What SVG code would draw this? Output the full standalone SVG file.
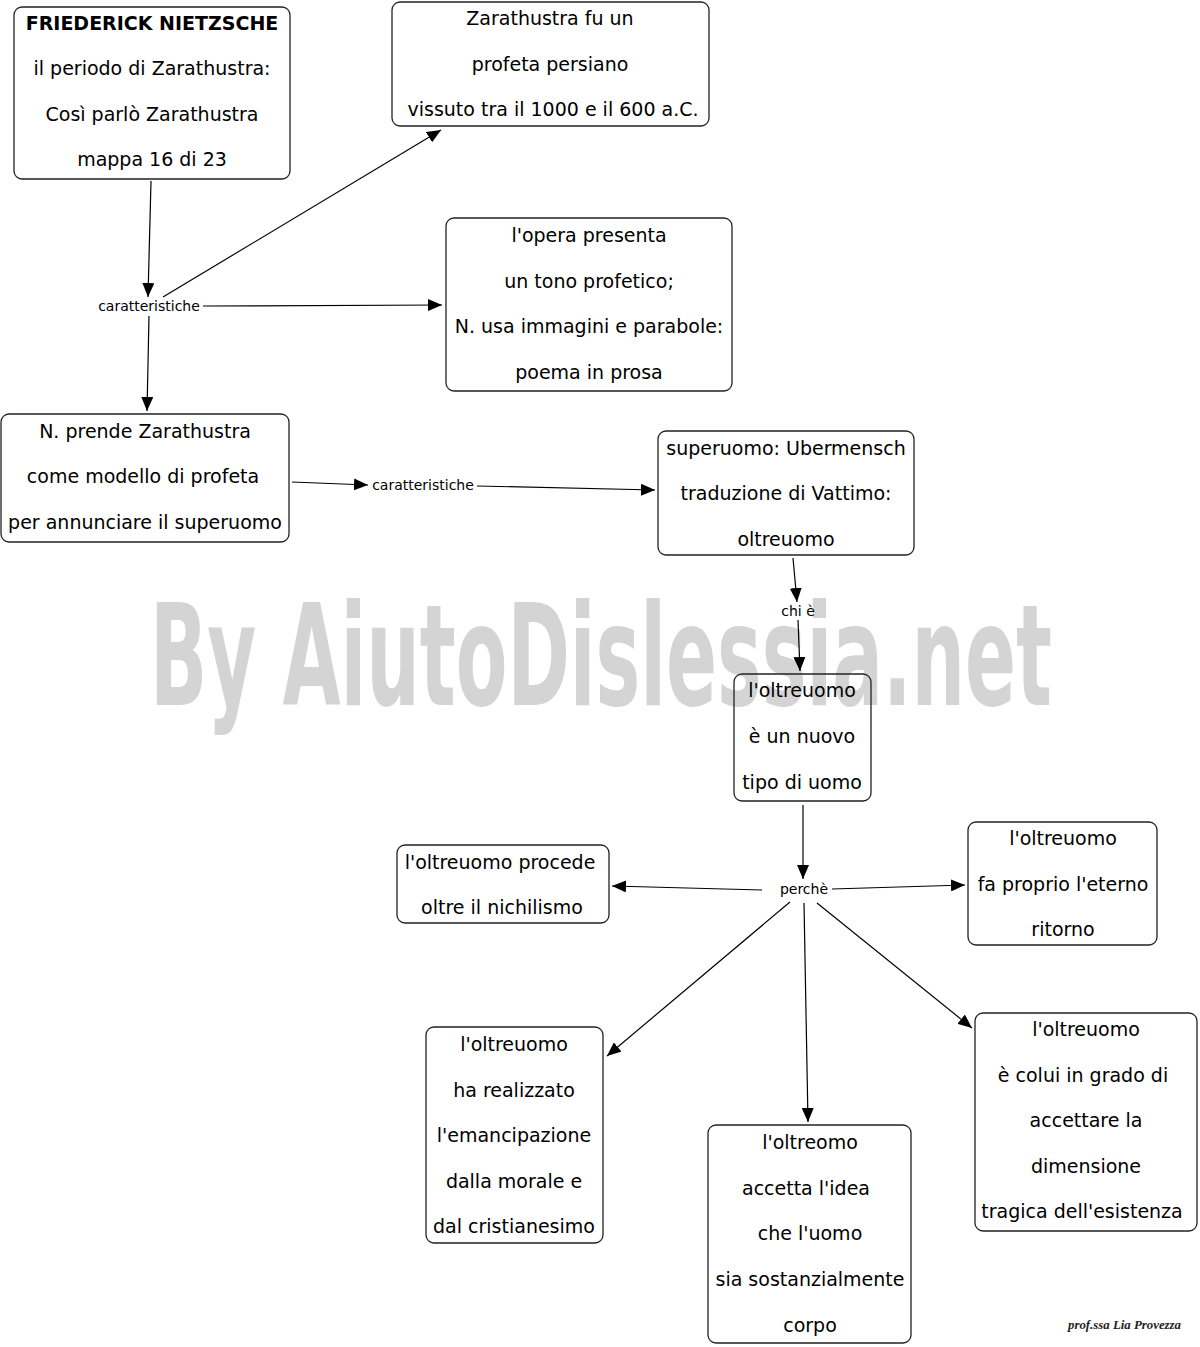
<svg xmlns="http://www.w3.org/2000/svg" width="1200" height="1347" viewBox="0 0 1200 1347">
<defs>
<marker id="ah" viewBox="0 0 14 12" refX="14" refY="6" markerWidth="14" markerHeight="12" markerUnits="userSpaceOnUse" orient="auto">
<path d="M0,0 L14,6 L0,12 Z" fill="#000"/>
</marker>
<style>
.box{fill:none;stroke:#222;stroke-width:1.3}
.t{font-family:"DejaVu Sans",Verdana,sans-serif;font-size:19px;fill:#000;text-anchor:middle}
.b{font-weight:bold}
.lbl{font-family:"DejaVu Sans",Verdana,sans-serif;font-size:14px;fill:#000;text-anchor:middle}
.c{fill:none;stroke:#000;stroke-width:1.2;marker-end:url(#ah)}
</style>
</defs>
<rect width="1200" height="1347" fill="#fff"/>
<text x="150" y="705" font-family="'DejaVu Sans Condensed','DejaVu Sans',sans-serif" font-weight="bold" font-size="140" fill="#d4d4d4" textLength="902" lengthAdjust="spacingAndGlyphs">By AiutoDislessia.net</text>

<g id="connectors">
<line class="c" x1="151" y1="181" x2="148" y2="297"/>
<line class="c" x1="163" y1="297" x2="441" y2="130"/>
<line class="c" x1="203" y1="306" x2="442" y2="305"/>
<line class="c" x1="149" y1="316" x2="147" y2="411"/>
<line class="c" x1="292" y1="482" x2="368" y2="485"/>
<line class="c" x1="477" y1="486" x2="655" y2="490"/>
<line class="c" x1="793" y1="558" x2="797" y2="602"/>
<line class="c" x1="798" y1="620" x2="800" y2="671"/>
<line class="c" x1="803" y1="805" x2="803" y2="879"/>
<line class="c" x1="762" y1="890" x2="612" y2="886"/>
<line class="c" x1="832" y1="889" x2="965" y2="885"/>
<line class="c" x1="790" y1="902" x2="607" y2="1056"/>
<line class="c" x1="804" y1="903" x2="808" y2="1122"/>
<line class="c" x1="817" y1="903" x2="972" y2="1028"/>
<text class="lbl" x="149" y="311">caratteristiche</text>
<text class="lbl" x="423" y="490">caratteristiche</text>
<text class="lbl" x="798" y="616">chi è</text>
<text class="lbl" x="804" y="894">perchè</text>
</g>

<g id="n1">
<rect class="box" x="14" y="7" width="276" height="172" rx="8"/>
<text class="t b" x="152" y="30">FRIEDERICK NIETZSCHE</text>
<text class="t" x="152" y="75">il periodo di Zarathustra:</text>
<text class="t" x="152" y="121">Così parlò Zarathustra</text>
<text class="t" x="152" y="166">mappa 16 di 23</text>
</g>
<g id="n2">
<rect class="box" x="392" y="2" width="317" height="124" rx="8"/>
<text class="t" x="550" y="25">Zarathustra fu  un</text>
<text class="t" x="550" y="71">profeta persiano</text>
<text class="t" x="553" y="116">vissuto tra il 1000 e il 600 a.C.</text>
</g>
<g id="n3">
<rect class="box" x="446" y="218" width="286" height="173" rx="8"/>
<text class="t" x="589" y="242">l'opera presenta</text>
<text class="t" x="589" y="288">un tono profetico;</text>
<text class="t" x="589" y="333">N. usa immagini e parabole:</text>
<text class="t" x="589" y="379">poema in prosa</text>
</g>
<g id="n4">
<rect class="box" x="1" y="414" width="288" height="128" rx="8"/>
<text class="t" x="145" y="438">N. prende Zarathustra</text>
<text class="t" x="143" y="483">come modello di profeta</text>
<text class="t" x="145" y="529">per annunciare il superuomo</text>
</g>
<g id="n5">
<rect class="box" x="658" y="431" width="256" height="124" rx="8"/>
<text class="t" x="786" y="455">superuomo: Ubermensch</text>
<text class="t" x="786" y="500">traduzione di Vattimo:</text>
<text class="t" x="786" y="546">oltreuomo</text>
</g>
<g id="n6">
<rect class="box" x="734" y="674" width="137" height="127" rx="8"/>
<text class="t" x="802" y="697">l'oltreuomo</text>
<text class="t" x="802" y="743">è un nuovo</text>
<text class="t" x="802" y="789">tipo di uomo</text>
</g>
<g id="n7">
<rect class="box" x="397" y="845" width="212" height="78" rx="8"/>
<text class="t" x="500" y="869">l'oltreuomo procede</text>
<text class="t" x="502" y="914">oltre il nichilismo</text>
</g>
<g id="n8">
<rect class="box" x="968" y="822" width="189" height="123" rx="8"/>
<text class="t" x="1063" y="845">l'oltreuomo</text>
<text class="t" x="1063" y="891">fa proprio l'eterno</text>
<text class="t" x="1063" y="936">ritorno</text>
</g>
<g id="n9">
<rect class="box" x="426" y="1027" width="177" height="216" rx="8"/>
<text class="t" x="514" y="1051">l'oltreuomo</text>
<text class="t" x="514" y="1097">ha realizzato</text>
<text class="t" x="514" y="1142">l'emancipazione</text>
<text class="t" x="514" y="1188">dalla morale e</text>
<text class="t" x="514" y="1233">dal cristianesimo</text>
</g>
<g id="n10">
<rect class="box" x="708" y="1125" width="203" height="218" rx="8"/>
<text class="t" x="810" y="1149">l'oltreomo</text>
<text class="t" x="806" y="1195">accetta l'idea</text>
<text class="t" x="810" y="1240">che l'uomo</text>
<text class="t" x="810" y="1286">sia sostanzialmente</text>
<text class="t" x="810" y="1332">corpo</text>
</g>
<g id="n11">
<rect class="box" x="975" y="1013" width="222" height="218" rx="8"/>
<text class="t" x="1086" y="1036">l'oltreuomo</text>
<text class="t" x="1083" y="1082">è colui in grado di</text>
<text class="t" x="1086" y="1127">accettare la</text>
<text class="t" x="1086" y="1173">dimensione</text>
<text class="t" x="1082" y="1218">tragica dell'esistenza</text>
</g>
<text x="1068" y="1329" font-family="'Liberation Serif',serif" font-style="italic" font-weight="bold" font-size="12" fill="#222" textLength="113" lengthAdjust="spacingAndGlyphs">prof.ssa Lia Provezza</text>
</svg>
